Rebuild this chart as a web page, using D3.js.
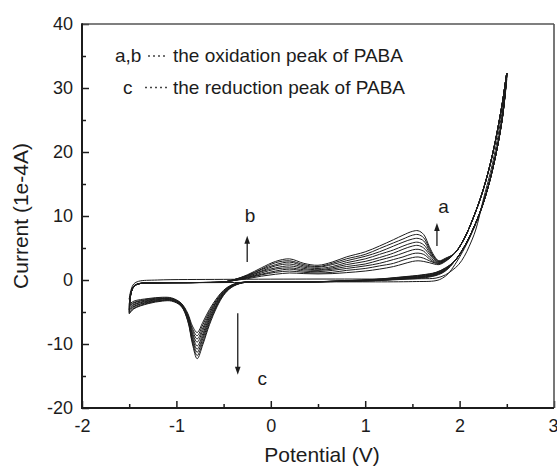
<!DOCTYPE html>
<html>
<head>
<meta charset="utf-8">
<script src="https://cdn.jsdelivr.net/npm/d3@7"></script>
<style>
  html, body { margin: 0; padding: 0; background: #fff; }
  svg { display: block; font-family: "Liberation Sans", Arial, Helvetica, sans-serif; }
</style>
</head>
<body>
<svg id="chart" width="557" height="468"></svg>
<script>
// ---- axis ticks ----
const xTicks = [-2, -1, 0, 1, 2, 3];
const xMinorTicks = [-1.5, -0.5, 0.5, 1.5, 2.5];
const yTicks = [-20, -10, 0, 10, 20, 30, 40];
const yMinorTicks = [-15, -5, 5, 15, 25, 35];

// ---- first scan on the bare electrode (no polymer peaks) ----
const scan1FwdV = [-1.5, -1.48, -1.45, -1.4, -1.2, -0.5, 0.5, 1.2, 1.6, 1.75, 1.85, 1.92, 1.99, 2.05, 2.1, 2.17, 2.25, 2.35, 2.45, 2.5];
const scan1FwdI = [-3.0, -1.5, -0.6, -0.2, 0.0, 0.1, 0.15, 0.15, 0.2, 0.3, 0.8, 1.5, 2.4, 3.7, 5.2, 7.8, 12.5, 18.3, 26.2, 31.5];
const scan1RevV = [2.45, 2.35, 2.25, 2.15, 2.05, 1.95, 1.88, 1.82, 1.75, 1.5, 0.5, -0.5, -1.2, -1.4, -1.45, -1.48, -1.5];
const scan1RevI = [25.0, 17.4, 11.9, 8.0, 4.9, 2.4, 1.0, 0.3, -0.1, -0.25, -0.3, -0.4, -0.45, -0.55, -0.9, -1.8, -3.0];

// ---- following scans (growing PABA film) ----
// anodic sweep: shared start, per-scan peak region (b and a), shared steep rise
const filmFwdHeadV = [-1.48, -1.45, -1.4, -1.2, -0.8, -0.5];
const filmFwdHeadI = [-2.0, -1.0, -0.6, -0.45, -0.4, -0.3];
const fwdPeakV = [-0.4, -0.25, -0.1, 0.05, 0.2, 0.35, 0.5, 0.65, 0.8, 1.0, 1.15, 1.3, 1.4, 1.5, 1.56, 1.62, 1.68, 1.73, 1.78, 1.85];
const fwdPeakI = [
  [-0.1, 0.2, 0.6, 0.9, 1.1, 1.0, 0.95, 1.0, 1.15, 1.4, 1.7, 2.1, 2.5, 2.9, 3.0, 2.9, 2.7, 2.5, 2.4, 2.9],
  [-0.1, 0.3, 0.8, 1.2, 1.4, 1.2, 1.1, 1.2, 1.5, 1.8, 2.2, 2.6, 3.1, 3.5, 3.6, 3.4, 3.0, 2.7, 2.5, 3.0],
  [-0.1, 0.4, 0.9, 1.4, 1.7, 1.4, 1.3, 1.5, 1.8, 2.2, 2.6, 3.2, 3.6, 4.1, 4.2, 4.0, 3.3, 2.8, 2.6, 3.0],
  [-0.1, 0.4, 1.1, 1.7, 1.9, 1.6, 1.5, 1.7, 2.1, 2.5, 3.1, 3.7, 4.2, 4.7, 4.8, 4.5, 3.6, 3.0, 2.6, 3.1],
  [0.0, 0.5, 1.3, 1.9, 2.2, 1.8, 1.6, 1.9, 2.4, 2.9, 3.5, 4.2, 4.8, 5.3, 5.4, 5.0, 4.0, 3.2, 2.7, 3.2],
  [0.0, 0.6, 1.4, 2.2, 2.5, 2.0, 1.8, 2.1, 2.7, 3.3, 4.0, 4.7, 5.3, 5.8, 5.9, 5.5, 4.3, 3.3, 2.8, 3.2],
  [0.0, 0.7, 1.6, 2.4, 2.8, 2.2, 2.0, 2.4, 3.0, 3.7, 4.4, 5.3, 5.9, 6.4, 6.5, 6.1, 4.6, 3.5, 2.9, 3.3],
  [0.0, 0.7, 1.7, 2.7, 3.0, 2.4, 2.1, 2.6, 3.3, 4.0, 4.9, 5.8, 6.4, 7.0, 7.1, 6.6, 4.9, 3.6, 2.9, 3.3],
  [0.0, 0.8, 1.9, 2.9, 3.3, 2.6, 2.3, 2.8, 3.6, 4.4, 5.3, 6.3, 7.0, 7.6, 7.7, 7.1, 5.2, 3.8, 3.0, 3.4]
];
const filmFwdTailV = [1.95, 2.05, 2.15, 2.25, 2.35, 2.45, 2.5];
const filmFwdTailI = [4.2, 6.5, 9.9, 14.1, 19.7, 27.4, 32.3];

// cathodic sweep: shared steep fall, per-scan reduction peak c
const filmRevHeadV = [2.45, 2.35, 2.25, 2.15, 2.05, 1.95];
const filmRevHeadI = [25.0, 17.3, 12.0, 8.2, 5.2, 3.0];
const revPeakV = [1.85, 1.75, 1.6, 1.4, 1.1, 0.8, 0.4, 0.0, -0.3, -0.42, -0.5, -0.57, -0.65, -0.72, -0.78, -0.83, -0.88, -0.95, -1.05, -1.15, -1.3, -1.45, -1.5];
const revPeakI = [
  [1.4, 0.7, 0.3, 0.1, -0.1, -0.2, -0.3, -0.3, -0.35, -0.8, -1.6, -2.8, -4.6, -6.6, -8.2, -7.2, -5.2, -3.6, -2.8, -2.7, -2.9, -3.3, -3.8],
  [1.5, 0.8, 0.4, 0.2, -0.1, -0.2, -0.3, -0.3, -0.36, -0.85, -1.7, -3.0, -4.9, -7.0, -8.7, -7.6, -5.4, -3.7, -2.9, -2.8, -3.0, -3.5, -4.0],
  [1.5, 0.8, 0.4, 0.2, -0.1, -0.2, -0.3, -0.3, -0.38, -0.9, -1.8, -3.2, -5.2, -7.5, -9.2, -7.9, -5.5, -3.7, -2.9, -2.9, -3.1, -3.6, -4.2],
  [1.6, 0.9, 0.5, 0.25, 0.0, -0.16, -0.3, -0.3, -0.39, -0.95, -1.9, -3.3, -5.5, -7.9, -9.7, -8.3, -5.7, -3.8, -3.0, -2.9, -3.2, -3.8, -4.4],
  [1.65, 0.95, 0.55, 0.3, 0.0, -0.15, -0.3, -0.3, -0.4, -1.0, -2.0, -3.5, -5.8, -8.4, -10.3, -8.6, -5.8, -3.9, -3.1, -3.0, -3.3, -3.9, -4.6],
  [1.7, 1.0, 0.6, 0.35, 0.0, -0.14, -0.3, -0.3, -0.41, -1.05, -2.1, -3.7, -6.1, -8.8, -10.8, -9.0, -6.0, -3.9, -3.1, -3.1, -3.4, -4.1, -4.7],
  [1.8, 1.1, 0.7, 0.4, 0.05, -0.13, -0.3, -0.3, -0.43, -1.1, -2.2, -3.9, -6.4, -9.2, -11.3, -9.3, -6.1, -4.0, -3.2, -3.2, -3.5, -4.2, -4.9],
  [1.85, 1.15, 0.75, 0.45, 0.08, -0.11, -0.3, -0.3, -0.44, -1.15, -2.3, -4.0, -6.7, -9.7, -11.8, -9.7, -6.3, -4.0, -3.2, -3.2, -3.6, -4.4, -5.1],
  [1.9, 1.2, 0.8, 0.5, 0.1, -0.1, -0.3, -0.3, -0.45, -1.2, -2.4, -4.2, -7.0, -10.1, -12.3, -10.0, -6.4, -4.1, -3.3, -3.3, -3.7, -4.5, -5.3]
];

// ---- texts ----
const legendRows = [
  { key: "a,b", text: "the oxidation peak of PABA" },
  { key: "c", text: "the reduction peak of PABA" }
];
// arrows: potential, start current, tip current; labels: potential, current
const peakArrows = [
  { v: -0.25, from: 2.8, to: 6.9 },
  { v: 1.76, from: 5.3, to: 8.9 },
  { v: -0.35, from: -5.2, to: -14.8 }
];
const peakLabels = [
  { name: "b", v: -0.22, i: 9.1 },
  { name: "a", v: 1.83, i: 10.5 },
  { name: "c", v: -0.09, i: -16.4 }
];

// ---- drawing ----
const svg = d3.select("#chart");
const x = d3.scaleLinear().domain([-2, 3]).range([82, 554]);
const y = d3.scaleLinear().domain([-20, 40]).range([408, 24]);
const ink = "#1c1c1c";

// axes (ticks point inward)
const gx = svg.append("g").attr("transform", `translate(0,${y(-20)})`)
  .call(d3.axisBottom(x).tickValues(xTicks).tickSizeInner(-7).tickSizeOuter(0)
    .tickPadding(11).tickFormat(d => String(d)));
const gxm = svg.append("g").attr("transform", `translate(0,${y(-20)})`)
  .call(d3.axisBottom(x).tickValues(xMinorTicks).tickSizeInner(-4).tickSizeOuter(0).tickFormat(""));
const gy = svg.append("g").attr("transform", `translate(${x(-2)},0)`)
  .call(d3.axisLeft(y).tickValues(yTicks).tickSizeInner(-7).tickSizeOuter(0)
    .tickPadding(9).tickFormat(d => String(d)));
const gym = svg.append("g").attr("transform", `translate(${x(-2)},0)`)
  .call(d3.axisLeft(y).tickValues(yMinorTicks).tickSizeInner(-4).tickSizeOuter(0).tickFormat(""));

[gx, gxm, gy, gym].forEach(g => {
  g.select(".domain").remove();
  g.selectAll(".tick line").attr("stroke", ink).attr("stroke-width", 1.5);
  g.selectAll(".tick text").attr("fill", ink).style("font-size", "18px")
    .style("font-family", '"Liberation Sans", Arial, sans-serif');
});
// the last x label sits on the right border; keep it inside the canvas
gx.selectAll(".tick text").filter(d => d === 3).attr("text-anchor", "end").attr("dx", 4);

// frame
const x0 = x(-2), x1 = x(3), y0 = y(-20), y1 = y(40);
svg.append("line").attr("x1", x0).attr("x2", x1).attr("y1", y1).attr("y2", y1)
  .attr("stroke", "#555").attr("stroke-width", 1.6);
svg.append("line").attr("x1", x1).attr("x2", x1).attr("y1", y1).attr("y2", y0)
  .attr("stroke", "#555").attr("stroke-width", 1.6);
svg.append("line").attr("x1", x0).attr("x2", x0).attr("y1", y1 - 0.8).attr("y2", y0 + 1)
  .attr("stroke", ink).attr("stroke-width", 2);
svg.append("line").attr("x1", x0 - 1).attr("x2", x1).attr("y1", y0).attr("y2", y0)
  .attr("stroke", ink).attr("stroke-width", 2);

// axis titles
svg.append("text").attr("x", (x0 + x1) / 2 + 4).attr("y", 462)
  .attr("text-anchor", "middle").attr("fill", ink).style("font-size", "21px")
  .text("Potential (V)");
svg.append("text").attr("transform", `translate(28,${(y0 + y1) / 2}) rotate(-90)`)
  .attr("text-anchor", "middle").attr("fill", ink).style("font-size", "21px")
  .text("Current (1e-4A)");

// voltammograms
const zip = (vs, is) => vs.map((v, k) => [v, is[k]]);
const line = d3.line().x(d => x(d[0])).y(d => y(d[1])).curve(d3.curveCatmullRom.alpha(0.5));
const curves = svg.append("g").attr("fill", "none").attr("stroke", ink)
  .attr("stroke-width", 1).attr("stroke-linejoin", "round");

// bare-electrode scan
const scan1 = zip(scan1FwdV, scan1FwdI).concat(zip(scan1RevV, scan1RevI));
curves.append("path").attr("d", line(scan1));

// film scans
fwdPeakI.forEach((fI, k) => {
  const rI = revPeakI[k];
  const start = [-1.5, rI[rI.length - 1]];
  const pts = [start]
    .concat(zip(filmFwdHeadV, filmFwdHeadI))
    .concat(zip(fwdPeakV, fI))
    .concat(zip(filmFwdTailV, filmFwdTailI))
    .concat(zip(filmRevHeadV, filmRevHeadI))
    .concat(zip(revPeakV, rI));
  curves.append("path").attr("d", line(pts));
});

// legend
const legend = svg.append("g").attr("fill", ink).style("font-size", "19px");
legendRows.forEach((r, k) => {
  const base = 62 + k * 31.5;
  legend.append("text").attr("x", k === 0 ? 115 : 123).attr("y", base).text(r.key);
  legend.append("line").attr("x1", k === 0 ? 148 : 145).attr("x2", 168)
    .attr("y1", base - 6).attr("y2", base - 6)
    .attr("stroke", "#444").attr("stroke-width", 1.6).attr("stroke-dasharray", "2,3");
  legend.append("text").attr("x", 173).attr("y", base).text(r.text);
});

// peak arrows
const ann = svg.append("g");
peakArrows.forEach(a => {
  const px = x(a.v), pa = y(a.from), pb = y(a.to);
  const dir = pb < pa ? 1 : -1;          // +1 arrow up, -1 arrow down
  ann.append("line").attr("x1", px).attr("x2", px).attr("y1", pa).attr("y2", pb + dir * 6)
    .attr("stroke", ink).attr("stroke-width", 1.3);
  ann.append("path")
    .attr("d", `M${px},${pb} L${px - 2.8},${pb + dir * 8} L${px + 2.8},${pb + dir * 8} Z`)
    .attr("fill", ink);
});
peakLabels.forEach(l => {
  ann.append("text").attr("x", x(l.v)).attr("y", y(l.i)).attr("text-anchor", "middle")
    .attr("fill", ink).style("font-size", "19px").text(l.name);
});
</script>
</body>
</html>
